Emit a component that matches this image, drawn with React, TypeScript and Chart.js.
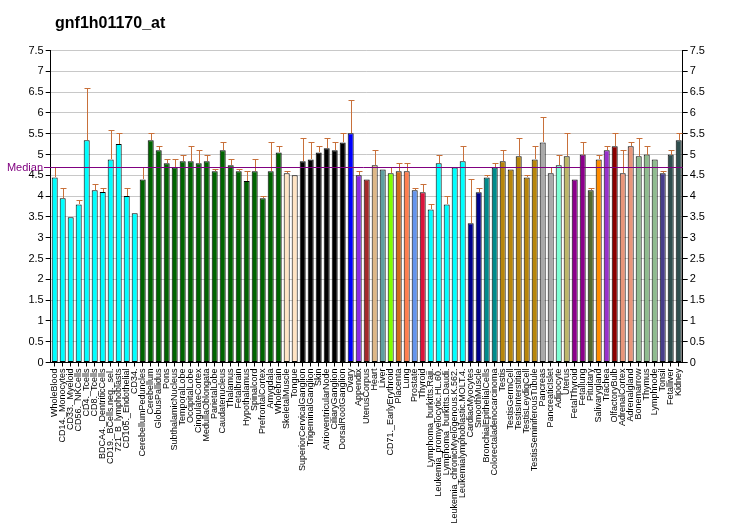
import React, { useEffect, useRef } from "react";
import { Chart, registerables } from "chart.js";
Chart.register(...registerables);

const chartTitle = "gnf1h01170_at";
const medianValue = 4.69;

const categories = [
  "WholeBlood", "CD14._Monocytes", "CD33._Myeloid", "CD56._NKCells", "CD4._Tcells", "CD8._Tcells",
  "BDCA4._DentriticCells", "CD19._BCells.neg._sel.", "721_B_lymphoblasts", "CD105._Endothelial", "CD34.",
  "CerebellumPeduncles", "Cerebellum", "GlobusPallidus", "Pons", "SubthalamicNucleus", "TemporalLobe",
  "OccipitalLobe", "CingulateCortex", "MedullaOblongata", "ParietalLobe", "Caudatenucleus", "Thalamus",
  "Fetalbrain", "Hypothalamus", "Spinalcord", "PrefrontalCortex", "Amygdala", "Wholebrain",
  "SkeletalMuscle", "Tongue", "SuperiorCervicalGanglion", "TrigeminalGanglion", "Skin",
  "AtrioventricularNode", "CiliaryGanglion", "DorsalRootGanglion", "Ovary", "Appendix", "UterusCorpus",
  "Heart", "Liver", "CD71._EarlyErythroid", "Placenta", "Lung", "Prostate", "Thyroid",
  "Lymphoma_burkitts.Raji.", "Leukemia_promyelocytic.HL.60.", "Lymphoma_burkitts.Daudi.",
  "Leukemia_chronicMyelogenous.K.562.", "Leukemialymphoblastic.MOLT.4.", "CardiacMyocytes", "SmoothMuscle",
  "BronchialEpithelialCells", "Colorectaladenocarcinoma", "Testis", "TestisGermCell", "TestisInterstitial",
  "TestisLeydigCell", "TestisSeminiferousTubule", "Pancreas", "PancreaticIslet", "Adipocyte", "Uterus",
  "FetalThyroid", "Fetallung", "Pituitary", "Salivarygland", "Trachea", "OlfactoryBulb", "AdrenalCortex",
  "Adrenalgland", "Bonemarrow", "Thymus", "Lymphnode", "Tonsil", "Fetalliver", "Kidney",
];

const values = [
  4.45, 3.95, 3.49, 3.80, 5.34, 4.14, 4.10, 4.88, 5.25, 4.00, 3.59,
  4.40, 5.34, 5.10, 4.79, 4.69, 4.84, 4.84, 4.79, 4.84, 4.60, 5.10, 4.74, 4.60, 4.36, 4.60, 3.95, 4.60, 5.05,
  4.55, 4.50, 4.84, 4.88, 5.05, 5.15, 5.10, 5.29, 5.51, 4.50, 4.40,
  4.74, 4.64, 4.55, 4.60, 4.60, 4.14, 4.09, 3.68, 4.79, 3.80, 4.69, 4.84, 3.35, 4.09,
  4.45, 4.69, 4.84, 4.64, 4.96, 4.45, 4.88, 5.29, 4.55, 4.74, 4.96,
  4.40, 5.00, 4.14, 4.88, 5.10, 5.20, 4.55, 5.20, 4.96, 5.00, 4.88, 4.55, 5.00, 5.34,
];

const errorTops = [
  4.69, 4.19, null, 3.90, 6.59, 4.28, 4.19, 5.60, 5.51, 4.19, null,
  4.69, 5.51, 5.20, 4.88, 4.88, 5.00, 5.20, 5.10, 5.00, 4.65, 5.29, 4.88, 4.65, 4.60, 4.88, 4.00, 5.29, 5.20,
  4.60, null, 5.39, 5.29, 5.20, 5.39, 5.29, 5.51, 6.30, 4.60, null,
  5.10, null, 4.69, 4.79, 4.79, 4.19, 4.28, 3.80, 5.00, 4.00, null, 5.20, 4.40, 4.19,
  4.50, 4.79, 5.10, null, 5.39, 4.50, 5.20, 5.89, 4.69, 5.00, 5.51,
  null, 5.29, 4.19, 5.00, 5.20, 5.51, 5.10, 5.29, 5.39, 5.20, null, 4.60, 5.10, 5.51,
];

const colorGroups: [string, number][] = [
  ["#00FFFF", 11], ["#006400", 18], ["#FFE4C4", 2], ["#000000", 6], ["#0000FF", 1], ["#8A2BE2", 1],
  ["#A52A2A", 1], ["#DEB887", 1], ["#5F9EA0", 1], ["#7FFF00", 1], ["#D2691E", 1], ["#FF7F50", 1],
  ["#6495ED", 1], ["#DC143C", 1], ["#00FFFF", 5], ["#00008B", 2], ["#008B8B", 2], ["#B8860B", 5],
  ["#A9A9A9", 2], ["#7FFFD4", 1], ["#BDB76B", 1], ["#8B008B", 2], ["#556B2F", 1], ["#FF8C00", 1],
  ["#9932CC", 1], ["#8B0000", 1], ["#E9967A", 2], ["#8FBC8F", 3], ["#483D8B", 1], ["#2F4F4F", 2],
];
const barColors: string[] = colorGroups.flatMap(([c, n]) => Array(n).fill(c));

const FONT = '"Liberation Sans", Arial, sans-serif';

const extrasPlugin = {
  id: "extras",
  afterDatasetsDraw(chart: any) {
    const ctx = chart.ctx;
    const meta = chart.getDatasetMeta(0);
    const y = chart.scales.y;
    ctx.save();
    ctx.strokeStyle = "#C8703A";
    ctx.lineWidth = 1;
    meta.data.forEach((bar: any, i: number) => {
      const e = errorTops[i];
      if (e == null) return;
      const x = Math.round(bar.x) + 0.5;
      const yTop = Math.round(y.getPixelForValue(e)) + 0.5;
      const yBar = Math.round(bar.y);
      ctx.beginPath();
      ctx.moveTo(x, yBar);
      ctx.lineTo(x, yTop);
      ctx.moveTo(x - 3, yTop);
      ctx.lineTo(x + 3, yTop);
      ctx.stroke();
    });
    const my = Math.round(y.getPixelForValue(medianValue)) + 0.5;
    ctx.strokeStyle = "#800080";
    ctx.beginPath();
    ctx.moveTo(44, my);
    ctx.lineTo(chart.chartArea.right, my);
    ctx.stroke();
    ctx.fillStyle = "#800080";
    ctx.font = `11px ${FONT}`;
    ctx.textAlign = "right";
    ctx.textBaseline = "middle";
    ctx.fillText("Median", 43, my);
    ctx.fillStyle = "#000";
    ctx.font = `bold 16px ${FONT}`;
    ctx.textAlign = "left";
    ctx.textBaseline = "alphabetic";
    ctx.fillText(chartTitle, 55, 28);
    ctx.restore();
  },
};

export default function App() {
  const ref = useRef<HTMLCanvasElement>(null);
  useEffect(() => {
    document.body.style.margin = "0";
    const yTickCfg = {
      stepSize: 0.5,
      font: { size: 11, family: FONT },
      color: "#000",
      padding: 2,
      callback: (v: any) => String(Number(v)),
    };
    const chart = new Chart(ref.current!, {
      type: "bar",
      data: {
        labels: categories,
        datasets: [
          {
            data: values,
            backgroundColor: barColors,
            borderColor: "#000",
            borderWidth: 1,
            borderSkipped: false,
            barPercentage: 0.75,
            categoryPercentage: 1,
          },
        ],
      },
      options: {
        animation: false,
        responsive: false,
        devicePixelRatio: 1,
        layout: { padding: { top: 50.5, left: 0, right: 0, bottom: 0 } },
        plugins: { legend: { display: false }, tooltip: { enabled: false }, title: { display: false } },
        scales: {
          x: {
            offset: true,
            grid: { display: true, drawOnChartArea: false, drawTicks: true, tickLength: 4, tickColor: "#000", offset: false },
            border: { display: true, color: "#000" },
            ticks: { autoSkip: false, maxRotation: 90, minRotation: 90, font: { size: 9, family: FONT }, color: "#000", padding: 2 },
            afterFit(s: any) { s.height = 167.5; },
          },
          y: {
            position: "left",
            min: 0,
            max: 7.5,
            ticks: yTickCfg,
            grid: { color: "#c8c8c8", tickColor: "#000", tickLength: 5 },
            border: { color: "#000" },
            afterFit(s: any) { s.width = 50.7; },
          },
          y2: {
            position: "right",
            min: 0,
            max: 7.5,
            ticks: yTickCfg,
            grid: { drawOnChartArea: false, tickColor: "#000", tickLength: 5 },
            border: { color: "#000" },
            afterFit(s: any) { s.width = 49.3; },
          },
        },
      } as any,
      plugins: [extrasPlugin],
    });
    return () => chart.destroy();
  }, []);
  return <canvas ref={ref} width={732} height={530} style={{ display: "block", width: 732, height: 530 }} />;
}
